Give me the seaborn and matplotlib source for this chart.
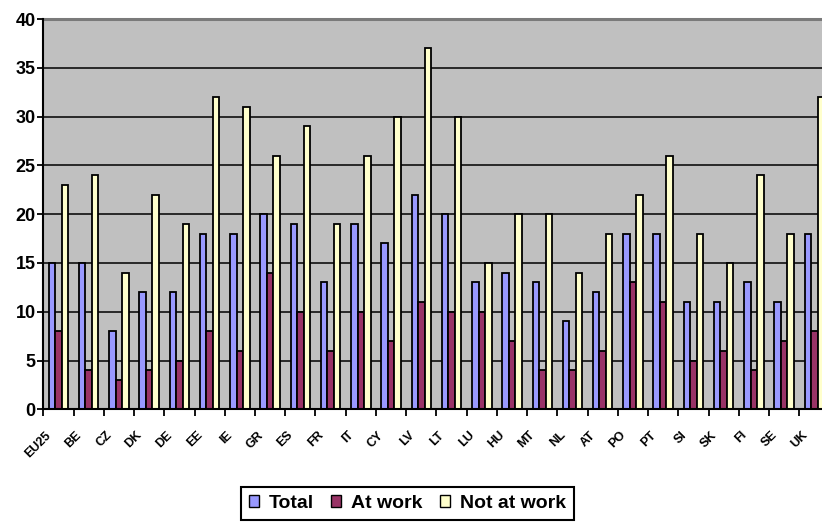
import numpy as np
import pandas as pd
import matplotlib
matplotlib.use("Agg")
import matplotlib.pyplot as plt
import matplotlib.transforms as mtransforms
from matplotlib.patches import Patch
import seaborn as sns

categories = ["EU25", "BE", "CZ", "DK", "DE", "EE", "IE", "GR", "ES", "FR", "IT",
              "CY", "LV", "LT", "LU", "HU", "MT", "NL", "AT", "PO", "PT", "SI",
              "SK", "FI", "SE", "UK"]
total = [15, 15, 8, 12, 12, 18, 18, 20, 19, 13, 19, 17, 22, 20, 13, 14, 13,
         9, 12, 18, 18, 11, 11, 13, 11, 18]
at_work = [8, 4, 3, 4, 5, 8, 6, 14, 10, 6, 10, 7, 11, 10, 10, 7, 4,
           4, 6, 13, 11, 5, 6, 4, 7, 8]
not_at_work = [23, 24, 14, 22, 19, 32, 31, 26, 29, 19, 26, 30, 37, 30, 15, 20, 20,
               14, 18, 22, 26, 18, 15, 24, 18, 32]
series_names = ["Total", "At work", "Not at work"]
series_colors = ["#9999FF", "#993366", "#FFFFCC"]
y_ticks = [0, 5, 10, 15, 20, 25, 30, 35, 40]

df = pd.DataFrame({
    "country": categories * 3,
    "series": np.repeat(series_names, len(categories)),
    "value": total + at_work + not_at_work,
})

plt.rcParams["font.family"] = ["Liberation Sans", "DejaVu Sans"]
plt.rcParams["font.weight"] = "bold"

W, H = 822, 523
fig = plt.figure(figsize=(W / 100, H / 100), dpi=100)
fig.patch.set_facecolor("white")

# one slot per country; the last slot runs past the right edge of the canvas
slot = 30.24
n_slots = len(categories)
ax = fig.add_axes([43.3 / W, (H - 409.3) / H, slot * n_slots / W, 390.3 / H])
ax.set_facecolor("#C0C0C0")

sns.barplot(data=df, x="country", y="value", hue="series", order=categories,
            hue_order=series_names, palette=series_colors, saturation=1,
            width=0.645, edgecolor="black", linewidth=1.3, legend=False, ax=ax,
            err_kws={"linewidth": 0}, zorder=3)

ax.set_xlim(-0.5, n_slots - 0.5)
ax.set_ylim(0, 40)
ax.set_xlabel("")
ax.set_ylabel("")

# horizontal gridlines
ax.set_yticks(y_ticks)
for v in y_ticks[1:-1]:
    ax.axhline(v, color="black", lw=1.1, zorder=1)

ax.tick_params(axis="y", direction="out", length=4, width=1.3, pad=1.5,
               labelsize=13, colors="black")
for lbl in ax.get_yticklabels():
    lbl.set_fontweight("bold")

# category labels at slot centres, tick marks at slot boundaries
ax.set_xticks(range(len(categories)))
ax.set_xticklabels(categories, rotation=45, ha="right", va="center",
                   rotation_mode="anchor", fontsize=9, fontweight="bold")
ax.set_xticks(np.arange(-0.5, n_slots - 0.5, 1.0), minor=True)
ax.tick_params(axis="x", which="major", length=0, pad=0)
ax.tick_params(axis="x", which="minor", direction="out", length=5, width=1.3)
shift = mtransforms.ScaledTranslation(-9 / 100, -24 / 100, fig.dpi_scale_trans)
for lbl in ax.get_xticklabels():
    lbl.set_transform(lbl.get_transform() + shift)

for side in ("left", "bottom"):
    ax.spines[side].set_color("black")
    ax.spines[side].set_linewidth(1.5)
    ax.spines[side].set_zorder(5)
ax.spines["top"].set_color("#7a7a7a")
ax.spines["top"].set_linewidth(2.2)
ax.spines["right"].set_visible(False)

handles = [Patch(facecolor=c, edgecolor="black", linewidth=1.0, label=n)
           for c, n in zip(series_colors, series_names)]
leg = fig.legend(handles=handles, loc="upper left",
                 bbox_to_anchor=(241 / W, (H - 487) / H), ncol=3,
                 frameon=True, fancybox=False, framealpha=1, edgecolor="black",
                 prop={"size": 14, "weight": "bold"}, handlelength=0.52,
                 handleheight=0.52, handletextpad=0.5, columnspacing=0.9,
                 borderpad=0.4, borderaxespad=0)
leg.get_frame().set_linewidth(1.5)

fig.savefig("out.png", dpi=100)
